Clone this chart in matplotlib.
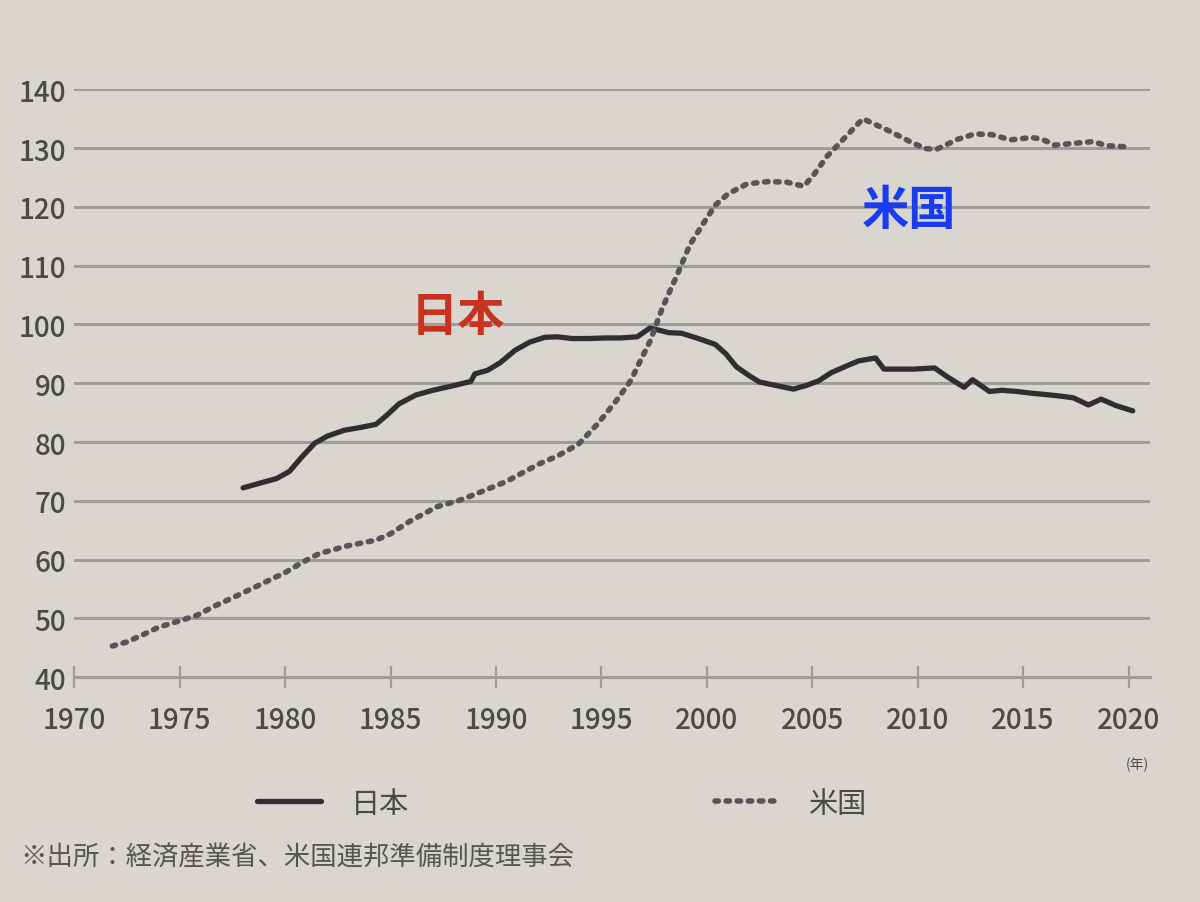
import matplotlib
matplotlib.use("Agg")
import matplotlib.pyplot as plt

plt.rcParams['font.family'] = ['Noto Sans CJK JP', 'DejaVu Sans']

# 日本 (solid line)
jp_years = [1978.0, 1978.8, 1979.6, 1980.2, 1980.8, 1981.4, 1982.0, 1982.8, 1983.6, 1984.3,
            1984.8, 1985.4, 1986.2, 1987.0, 1988.0, 1988.8, 1989.0, 1989.6, 1990.2, 1990.9,
            1991.6, 1992.3, 1992.9, 1993.6, 1994.4, 1995.2, 1995.9, 1996.7, 1997.3, 1998.2,
            1998.8, 1999.6, 2000.4, 2000.9, 2001.4, 2002.0, 2002.5, 2003.3, 2004.1, 2004.7,
            2005.3, 2005.9, 2006.6, 2007.2, 2008.0, 2008.4, 2009.0, 2009.8, 2010.8, 2011.4,
            2012.2, 2012.6, 2013.4, 2014.0, 2014.7, 2015.4, 2016.0, 2016.8, 2017.4, 2018.1,
            2018.7, 2019.4, 2020.2]
jp_values = [72.2, 73.0, 73.8, 75.0, 77.5, 79.8, 81.0, 82.0, 82.5, 83.0,
             84.5, 86.5, 88.0, 88.8, 89.6, 90.3, 91.6, 92.2, 93.5, 95.6,
             97.0, 97.8, 97.9, 97.6, 97.6, 97.7, 97.7, 97.9, 99.4, 98.6,
             98.5, 97.6, 96.6, 95.0, 92.8, 91.3, 90.2, 89.6, 89.0, 89.6,
             90.4, 91.8, 92.9, 93.8, 94.3, 92.4, 92.4, 92.4, 92.6, 91.1,
             89.3, 90.6, 88.6, 88.8, 88.6, 88.3, 88.1, 87.8, 87.5, 86.3,
             87.3, 86.2, 85.3]

# 米国 (dotted line)
us_years = [1971.8, 1972.5, 1973.3, 1974.0, 1975.0, 1975.8, 1976.6, 1977.5, 1978.5, 1979.3,
            1980.0, 1980.8, 1981.6, 1982.9, 1984.3, 1985.0, 1985.9, 1987.2, 1988.2, 1989.0,
            1990.5, 1992.0, 1992.9, 1993.9, 1994.8, 1995.7, 1996.4, 1996.8, 1997.3, 1997.9,
            1998.6, 1999.2, 1999.8, 2000.4, 2001.0, 2001.9, 2002.9, 2003.8, 2004.6, 2005.1,
            2005.7, 2006.5, 2007.4, 2008.6, 2009.8, 2010.4, 2010.9, 2011.9, 2012.7, 2013.5,
            2014.4, 2015.4, 2015.9, 2016.5, 2017.7, 2018.3, 2019.0, 2020.0]
us_values = [45.3, 46.0, 47.3, 48.5, 49.6, 50.5, 52.0, 53.5, 55.2, 56.6,
             57.8, 59.5, 61.0, 62.3, 63.3, 64.4, 66.5, 69.0, 70.0, 71.1,
             73.3, 76.2, 77.6, 79.6, 83.0, 87.0, 90.5, 93.5, 97.1, 102.9,
             108.5, 113.6, 117.0, 120.3, 122.2, 123.9, 124.3, 124.2, 123.5, 125.6,
             128.6, 131.6, 135.0, 133.0, 130.8, 129.9, 129.8, 131.5, 132.4, 132.3,
             131.4, 131.8, 131.5, 130.5, 130.9, 131.1, 130.4, 130.2]

x_ticks = [1970, 1975, 1980, 1985, 1990, 1995, 2000, 2005, 2010, 2015, 2020]
y_ticks = [40, 50, 60, 70, 80, 90, 100, 110, 120, 130, 140]

bg = '#d8d6cf'
grid_c = '#9e9d99'
text_c = '#4a4a4a'

fig = plt.figure(figsize=(12, 9.03), dpi=100, facecolor=bg)
ax = fig.add_axes([0.062, 0.249, 0.896, 0.651], facecolor=bg)

ax.set_xlim(1970, 2021)
ax.set_ylim(40, 140)

for v in y_ticks[1:]:
    ax.axhline(v, color=grid_c, lw=2.2, zorder=1)

ax.plot(jp_years, jp_values, color='#2e2e33', lw=3.8, solid_joinstyle='round',
        solid_capstyle='round', zorder=3, label='日本')
ax.plot(us_years, us_values, color='#55555a', lw=4.0, linestyle=(0, (0.6, 1.4)),
        dash_capstyle='round', zorder=3, label='米国')

for s in ['top', 'right', 'left']:
    ax.spines[s].set_visible(False)
ax.spines['bottom'].set_color(grid_c)
ax.spines['bottom'].set_linewidth(2.2)
ax.spines['bottom'].set_position(('data', 40))

ax.set_xticks(x_ticks)
ax.set_xticklabels([str(t) for t in x_ticks])
ax.set_yticks(y_ticks)
ax.set_yticklabels([str(t) for t in y_ticks])
ax.tick_params(axis='x', direction='inout', length=16, width=1.6, color=grid_c,
               labelsize=20, labelcolor=text_c, pad=12)
ax.tick_params(axis='y', length=0, labelsize=20, labelcolor=text_c, pad=6)
for lab in ax.get_xticklabels() + ax.get_yticklabels():
    lab.set_fontweight('medium')

ax.text(2020.4, 25.3, '(年)', fontsize=10, color=text_c, ha='center', va='center')

ax.text(1988.2, 101.5, '日本', fontsize=34, fontweight='bold', color='#c8321e',
        ha='center', va='center', zorder=4)
ax.text(2009.6, 119.5, '米国', fontsize=34, fontweight='bold', color='#1a3cf0',
        ha='center', va='center', zorder=4)

leg = ax.legend(loc='upper center', bbox_to_anchor=(0.4535, -0.145), ncol=2, frameon=False,
                fontsize=21, handlelength=2.2, columnspacing=10.5, handletextpad=1.0)
for t in leg.get_texts():
    t.set_color(text_c)

fig.text(0.017, 0.05, '※出所：経済産業省、米国連邦準備制度理事会', fontsize=19,
         color='#555555', ha='left', va='center')

fig.savefig('out.png', dpi=100, facecolor=bg)
